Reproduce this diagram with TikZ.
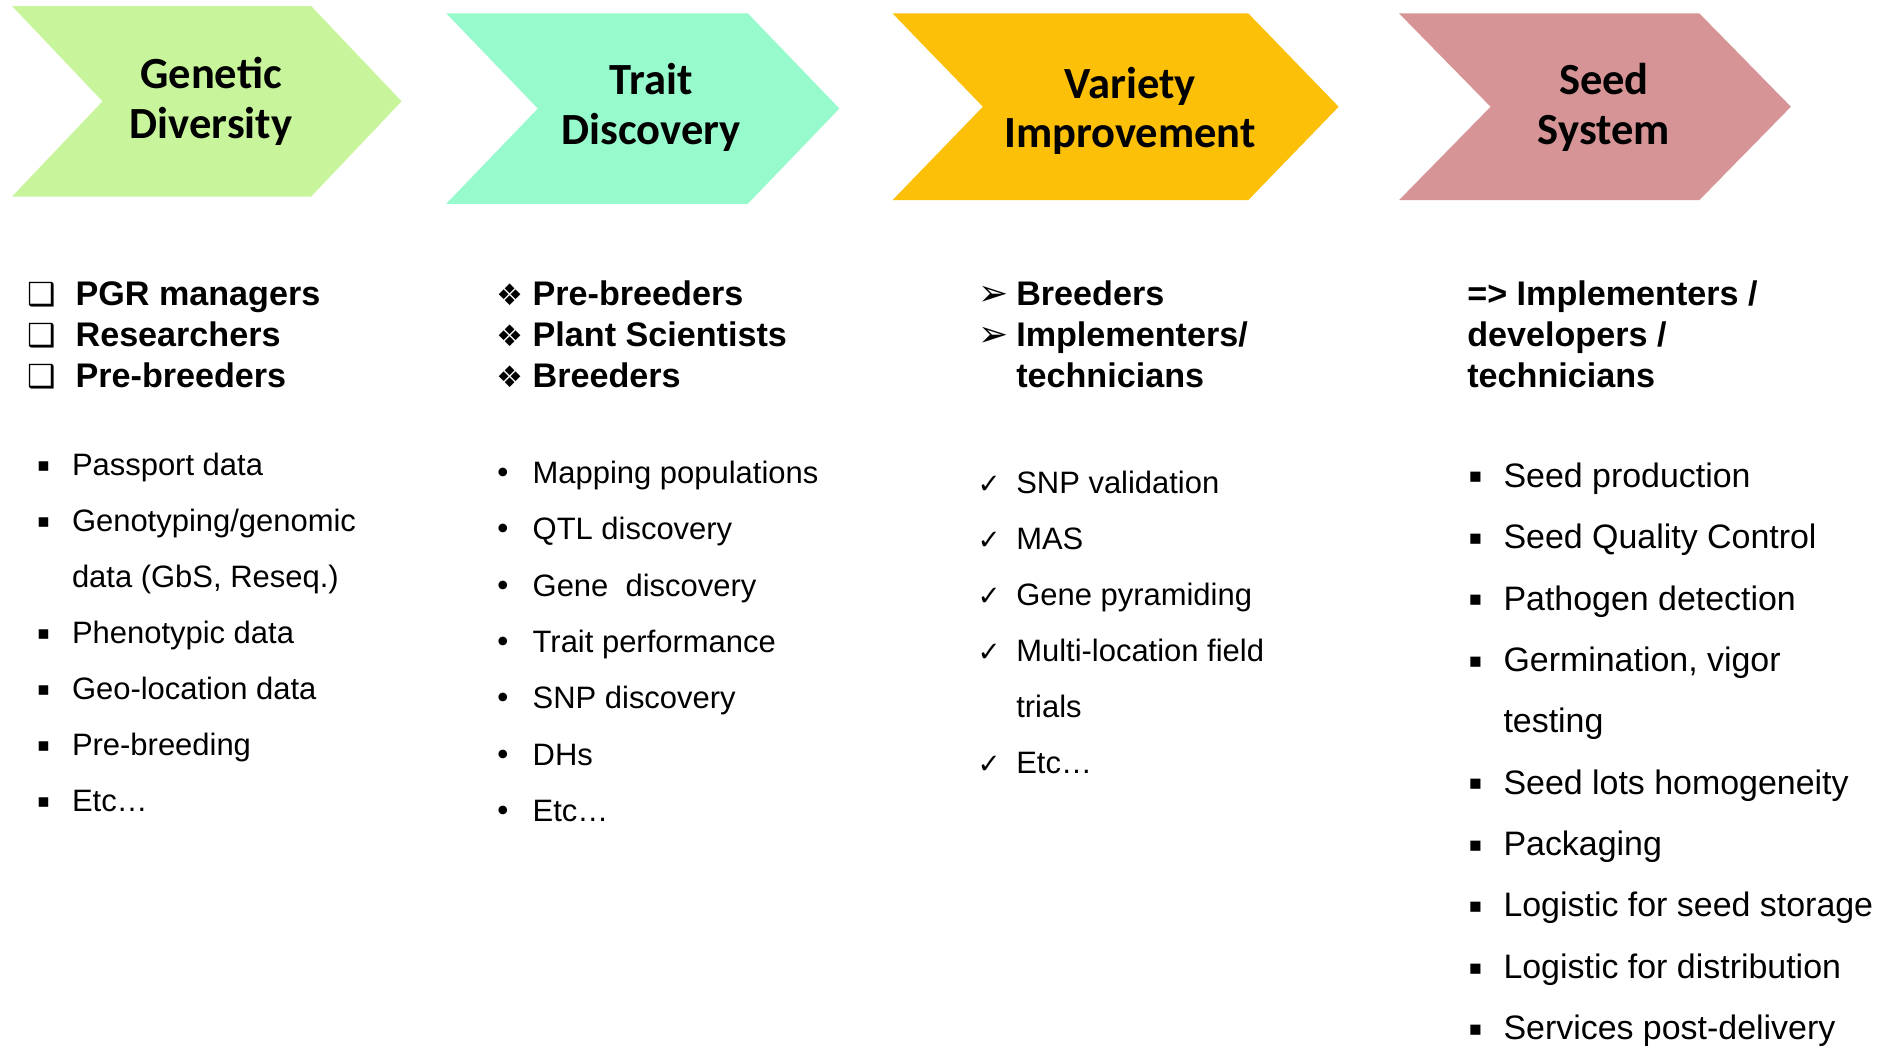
\documentclass[tikz,border=0pt]{standalone}
\usepackage{fontspec}
\setmainfont{Liberation Sans}
\newfontfamily\stagefont{Carlito}
\newfontfamily\dingfont{DejaVu Sans}
\definecolor{gdiv}{RGB}{200,245,155}
\definecolor{tdisc}{RGB}{150,250,205}
\definecolor{vimp}{RGB}{252,192,8}
\definecolor{sseed}{RGB}{215,148,150}
% list markers hang left of where the text starts
\newcommand{\hungmark}[3]{\llap{\makebox[#1][l]{\dingfont\fontsize{#2}{#2}\selectfont #3}}}
\newcommand{\boxmk}{\hungmark{0.40cm}{7.5}{❑}}
\newcommand{\diamk}{\hungmark{0.30cm}{7}{❖}}
\newcommand{\arrmk}{\hungmark{0.31cm}{8.5}{➢}}
\newcommand{\sqmk}{\hungmark{0.29cm}{4.5}{\raisebox{0.9pt}{▪}}}
\newcommand{\bigsqmk}{\hungmark{0.29cm}{4.8}{\raisebox{1pt}{▪}}}
\newcommand{\dotmk}{\hungmark{0.32cm}{7}{•}}
\newcommand{\chkmk}{\hungmark{0.32cm}{6.5}{✓}}

\begin{document}
\begin{tikzpicture}[
    x=0.01cm, y=-0.01cm,
    stage/.style={font=\stagefont\bfseries\fontsize{10.5}{11.7}\selectfont, align=center, inner sep=0pt},
    role/.style={anchor=base west, inner sep=0pt, font=\bfseries\fontsize{8.05}{9.7}\selectfont},
    item/.style={anchor=base west, inner sep=0pt, font=\fontsize{7.3}{8.8}\selectfont},
    bigitem/.style={item, font=\fontsize{8}{9.6}\selectfont}
  ]

  \fill [white] (0,0) rectangle (1568,867);

  % value chain chevrons
  \fill [gdiv]  (10,5)    -- ++(248,0) -- ++(75,79)   -- ++(-75,79)   -- ++(-248,0) -- ++(75,-79)   -- cycle;
  \fill [tdisc] (370,11)  -- ++(250,0) -- ++(76,79)   -- ++(-76,79)   -- ++(-250,0) -- ++(76,-79)   -- cycle;
  \fill [vimp]  (740,11)  -- ++(295,0) -- ++(75,77.5) -- ++(-75,77.5) -- ++(-295,0) -- ++(75,-77.5) -- cycle;
  \fill [sseed] (1160,11) -- ++(249,0) -- ++(76,77.5) -- ++(-76,77.5) -- ++(-249,0) -- ++(76,-77.5) -- cycle;

  \node [stage] (gd) at (175,84)  {Genetic\\Diversity};
  \node [stage] (td) at (540,89)  {Trait\\Discovery};
  \node [stage] (vi) at (937,92)  {Variety\\Improvement};
  \node [stage] (ss) at (1330,89) {Seed\\System};

  % who is involved
  \foreach \txt [count=\i] in {\boxmk PGR managers, \boxmk Researchers, \boxmk Pre-breeders}
    \node [role] (gd-r\i) at (62,{253+34*(\i-1)}) {\txt};
  \foreach \txt [count=\i] in {\diamk Pre-breeders, \diamk Plant Scientists, \diamk Breeders}
    \node [role] (td-r\i) at (441,{253+34*(\i-1)}) {\txt};
  \foreach \txt [count=\i] in {\arrmk Breeders, \arrmk Implementers/, technicians}
    \node [role] (vi-r\i) at (842,{253+34*(\i-1)}) {\txt};
  \foreach \txt [count=\i] in {=> Implementers /, developers /, technicians}
    \node [role] (ss-r\i) at (1216,{253+34*(\i-1)}) {\txt};

  % activities
  \foreach \txt [count=\i] in {\sqmk Passport data, \sqmk Genotyping/genomic, {data (GbS, Reseq.)},
      \sqmk Phenotypic data, \sqmk Geo-location data, \sqmk Pre-breeding, \sqmk Etc…}
    \node [item] (gd-\i) at (59,{394+46.5*(\i-1)}) {\txt};
  \foreach \txt [count=\i] in {\dotmk Mapping populations, \dotmk QTL discovery, \dotmk Gene~~discovery,
      \dotmk Trait performance, \dotmk SNP discovery, \dotmk DHs, \dotmk Etc…}
    \node [item] (td-\i) at (441,{401+46.7*(\i-1)}) {\txt};
  \foreach \txt [count=\i] in {\chkmk SNP validation, \chkmk MAS, \chkmk Gene pyramiding,
      \chkmk Multi-location field, trials, \chkmk Etc…}
    \node [item] (vi-\i) at (842,{409+46.5*(\i-1)}) {\txt};
  \foreach \txt [count=\i] in {\bigsqmk Seed production, \bigsqmk Seed Quality Control, \bigsqmk Pathogen detection,
      {\bigsqmk Germination, vigor}, testing, \bigsqmk Seed lots homogeneity, \bigsqmk Packaging,
      \bigsqmk Logistic for seed storage, \bigsqmk Logistic for distribution, \bigsqmk Services post-delivery}
    \node [bigitem] (ss-\i) at (1246,{404+50.9*(\i-1)}) {\txt};

  \useasboundingbox (0,0) rectangle (1568,867);
\end{tikzpicture}
\end{document}
